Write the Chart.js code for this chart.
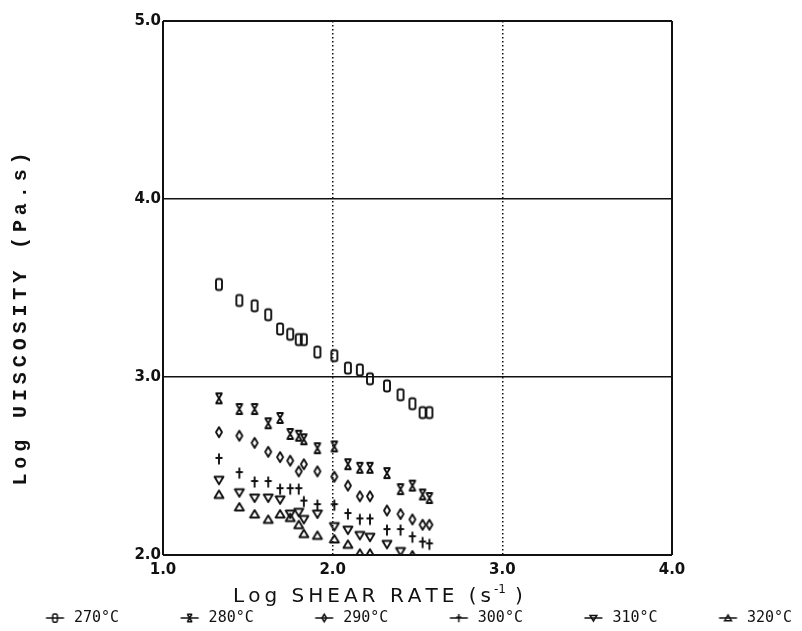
<!DOCTYPE html>
<html>
<head>
<meta charset="utf-8">
<title>Log viscosity vs log shear rate</title>
<script src="https://cdn.jsdelivr.net/npm/chart.js@4.4.1/dist/chart.umd.min.js"></script>
<style>
    html, body { margin: 0; padding: 0; background: #fff; }
    canvas { display: block; }
</style>
</head>
<body>
<canvas id="viscosityChart" width="802" height="631"></canvas>
<script>
// Log shear rate (s^-1), the same set of rates for every melt temperature
const shearRate = [1.33, 1.45, 1.54, 1.62, 1.69, 1.75, 1.80, 1.83, 1.91, 2.01, 2.09, 2.16, 2.22, 2.32, 2.40, 2.47, 2.53, 2.57];

const temperatures = ['270°C', '280°C', '290°C', '300°C', '310°C', '320°C'];

// Log viscosity (Pa.s) per temperature
const visc270 = [3.52, 3.43, 3.40, 3.35, 3.27, 3.24, 3.21, 3.21, 3.14, 3.12, 3.05, 3.04, 2.99, 2.95, 2.90, 2.85, 2.80, 2.80];
const visc280 = [2.88, 2.82, 2.82, 2.74, 2.77, 2.68, 2.67, 2.65, 2.60, 2.61, 2.51, 2.49, 2.49, 2.46, 2.37, 2.39, 2.34, 2.32];
const visc290 = [2.69, 2.67, 2.63, 2.58, 2.55, 2.53, 2.47, 2.51, 2.47, 2.44, 2.39, 2.33, 2.33, 2.25, 2.23, 2.20, 2.17, 2.17];
const visc300 = [2.54, 2.46, 2.41, 2.41, 2.37, 2.37, 2.37, 2.30, 2.28, 2.28, 2.23, 2.20, 2.20, 2.14, 2.14, 2.10, 2.07, 2.06];
const visc310 = [2.42, 2.35, 2.32, 2.32, 2.31, 2.23, 2.24, 2.20, 2.23, 2.16, 2.14, 2.11, 2.10, 2.06, 2.02, null, null, null];
const visc320 = [2.34, 2.27, 2.23, 2.20, 2.23, 2.21, 2.17, 2.12, 2.11, 2.09, 2.06, 2.01, 2.01, null, null, 2.00, null, null];

const xTicks = [1, 2, 3, 4];
const yTicks = [2, 3, 4, 5];

const INK = '#111';
const series = [visc270, visc280, visc290, visc300, visc310, visc320];
const markerKinds = ['box', 'hourglass', 'diamond', 'plus', 'down', 'up'];

// Plotter style glyphs, centred on 0,0
function drawGlyph(g, kind) {
    g.beginPath();
    switch (kind) {
        case 'box':
            g.roundRect(-3, -5.5, 6, 11, 2);
            break;
        case 'hourglass':
            g.moveTo(-3.5, -5); g.lineTo(3.5, -5);
            g.moveTo(-3.5, 5); g.lineTo(3.5, 5);
            g.moveTo(-3, -5); g.lineTo(3, 5);
            g.moveTo(3, -5); g.lineTo(-3, 5);
            break;
        case 'diamond':
            g.moveTo(0, -5); g.lineTo(3, 0); g.lineTo(0, 5); g.lineTo(-3, 0); g.closePath();
            break;
        case 'plus':
            g.moveTo(0, -5.5); g.lineTo(0, 5.5);
            g.moveTo(-3.5, -1); g.lineTo(3.5, -1);
            break;
        case 'down':
            g.moveTo(-4.5, -3.5); g.lineTo(4.5, -3.5); g.lineTo(0, 4); g.closePath();
            break;
        case 'up':
            g.moveTo(-4.5, 3.5); g.lineTo(4.5, 3.5); g.lineTo(0, -4); g.closePath();
            break;
    }
    g.stroke();
}

function pointImage(kind) {
    const c = document.createElement('canvas');
    c.width = 16; c.height = 16;
    const g = c.getContext('2d');
    g.translate(8, 8);
    g.strokeStyle = INK;
    g.lineWidth = 1.9;
    g.lineJoin = 'round';
    drawGlyph(g, kind);
    return c;
}

// Legend symbol: short line with a small glyph, shifted dx from the image centre
function legendImage(kind, dx) {
    const half = Math.ceil(Math.abs(dx) + 12);
    const c = document.createElement('canvas');
    c.width = half * 2; c.height = 16;
    const g = c.getContext('2d');
    g.translate(half + dx, 8);
    g.strokeStyle = INK;
    g.lineWidth = 1.5;
    g.beginPath(); g.moveTo(-9, 0); g.lineTo(9, 0); g.stroke();
    g.scale(0.75, 0.75);
    g.lineWidth = 2;
    drawGlyph(g, kind);
    return c;
}

// Legend spacing: items spread across the full page width
const legendFont = { family: '"DejaVu Sans Mono", monospace', size: 15 };
const measure = document.createElement('canvas').getContext('2d');
measure.font = legendFont.size + 'px ' + legendFont.family;
const textW = Math.max(...temperatures.map(t => measure.measureText(t).width));
const LEGEND_PITCH = 134.6, LEGEND_GAP = 2, FIRST_TEXT_X = 74, MARK_TO_TEXT = 19;
const legendBoxW = LEGEND_PITCH - LEGEND_GAP - legendFont.size / 2 - textW;
const padLeft = FIRST_TEXT_X - LEGEND_GAP - legendBoxW - legendFont.size / 2;
const markDx = legendBoxW / 2 + legendFont.size / 2 - MARK_TO_TEXT;

// Plot frame: 1.0..4.0 spans x 163..672, 5.0..2.0 spans y 21..553
const PLOT_LEFT = 163, PLOT_RIGHT = 672, PLOT_TOP = 21, PAD_BOTTOM = -4.5, X_AXIS_H = 53.5;

const datasets = series.map((vals, i) => ({
    label: temperatures[i],
    data: shearRate.map((x, j) => ({ x: x, y: vals[j] })).filter(p => p.y !== null),
    pointStyle: pointImage(markerKinds[i]),
    legendStyle: legendImage(markerKinds[i], markDx),
    showLine: false
}));

// Fixed character pitch (monospace look)
function drawPitched(g, text, startX, y, pitch) {
    for (let i = 0; i < text.length; i++) {
        g.fillText(text[i], startX + pitch * (i + 0.5), y);
    }
}

// Proportional text stretched to run from x0 to x1
function drawSpread(g, text, x0, x1, y) {
    const widths = [...text].map(ch => g.measureText(ch).width);
    const natural = widths.reduce((a, b) => a + b, 0);
    const extra = (x1 - x0 - natural) / (text.length - 1);
    let x = x0;
    g.textAlign = 'left';
    [...text].forEach((ch, i) => {
        g.fillText(ch, x, y);
        x += widths[i] + extra;
    });
}

const axisTitles = {
    id: 'axisTitles',
    afterDraw(chart) {
        const g = chart.ctx;
        g.save();
        g.fillStyle = INK;
        g.textAlign = 'center';
        g.textBaseline = 'middle';

        // y title, rotated
        const yTitle = 'Log UISCOSITY (Pa.s)';
        const yPitch = 16.9;
        g.save();
        g.translate(21, 319);
        g.rotate(-Math.PI / 2);
        g.font = 'bold 20px "Liberation Mono", "DejaVu Sans Mono", monospace';
        drawPitched(g, yTitle, -yTitle.length * yPitch / 2, 0, yPitch);
        g.restore();

        // x title with superscript exponent
        const y = 597;
        g.font = '20px "DejaVu Sans", sans-serif';
        drawSpread(g, 'Log SHEAR RATE (s', 233, 491, y);
        g.font = '12px "DejaVu Sans", sans-serif';
        g.fillText('-1', 494, y - 7);
        g.font = '20px "DejaVu Sans", sans-serif';
        g.fillText(')', 515, y);
        g.restore();
    }
};

const tickFont = { family: '"DejaVu Sans", sans-serif', size: 15, weight: 'bold' };

new Chart(document.getElementById('viscosityChart'), {
    type: 'scatter',
    data: { datasets: datasets },
    options: {
        responsive: false,
        devicePixelRatio: 1,
        animation: false,
        events: [],
        layout: {
            padding: { left: padLeft, right: 0, top: PLOT_TOP, bottom: PAD_BOTTOM }
        },
        plugins: {
            tooltip: { enabled: false },
            legend: {
                position: 'bottom',
                align: 'start',
                labels: {
                    usePointStyle: true,
                    pointStyleWidth: legendBoxW,
                    padding: LEGEND_GAP,
                    color: INK,
                    font: legendFont,
                    generateLabels: chart => chart.data.datasets.map((ds, i) => ({
                        text: ds.label,
                        pointStyle: ds.legendStyle,
                        fillStyle: INK,
                        strokeStyle: INK,
                        lineWidth: 0,
                        fontColor: INK,
                        hidden: false,
                        datasetIndex: i
                    }))
                }
            }
        },
        scales: {
            x: {
                type: 'linear',
                min: xTicks[0],
                max: xTicks[xTicks.length - 1],
                afterFit: s => { s.height = X_AXIS_H; },
                afterBuildTicks: s => { s.ticks = xTicks.map(v => ({ value: v })); },
                ticks: {
                    padding: 6,
                    color: INK,
                    font: tickFont,
                    callback: v => v.toFixed(1)
                },
                grid: {
                    drawTicks: false,
                    color: INK,
                    lineWidth: c => (c.tick && (c.tick.value === 1 || c.tick.value === 4)) ? 2 : 1.5
                },
                border: {
                    display: false,
                    dash: c => (c.tick && c.tick.value > 1 && c.tick.value < 4) ? [1.5, 2.5] : []
                }
            },
            y: {
                type: 'linear',
                min: yTicks[0],
                max: yTicks[yTicks.length - 1],
                afterFit: s => { s.width = PLOT_LEFT - padLeft; },
                afterBuildTicks: s => { s.ticks = yTicks.map(v => ({ value: v })); },
                ticks: {
                    padding: 2,
                    color: INK,
                    font: tickFont,
                    callback: v => v.toFixed(1)
                },
                grid: {
                    drawTicks: false,
                    color: INK,
                    lineWidth: c => (c.tick && (c.tick.value === 2 || c.tick.value === 5)) ? 2 : 1.5
                },
                border: { display: false }
            },
            // empty right-hand strip
            side: {
                type: 'linear',
                position: 'right',
                afterFit: s => { s.width = 802 - PLOT_RIGHT; },
                ticks: { display: false },
                grid: { display: false, drawTicks: false },
                border: { display: false }
            }
        }
    },
    plugins: [axisTitles]
});
</script>
</body>
</html>
